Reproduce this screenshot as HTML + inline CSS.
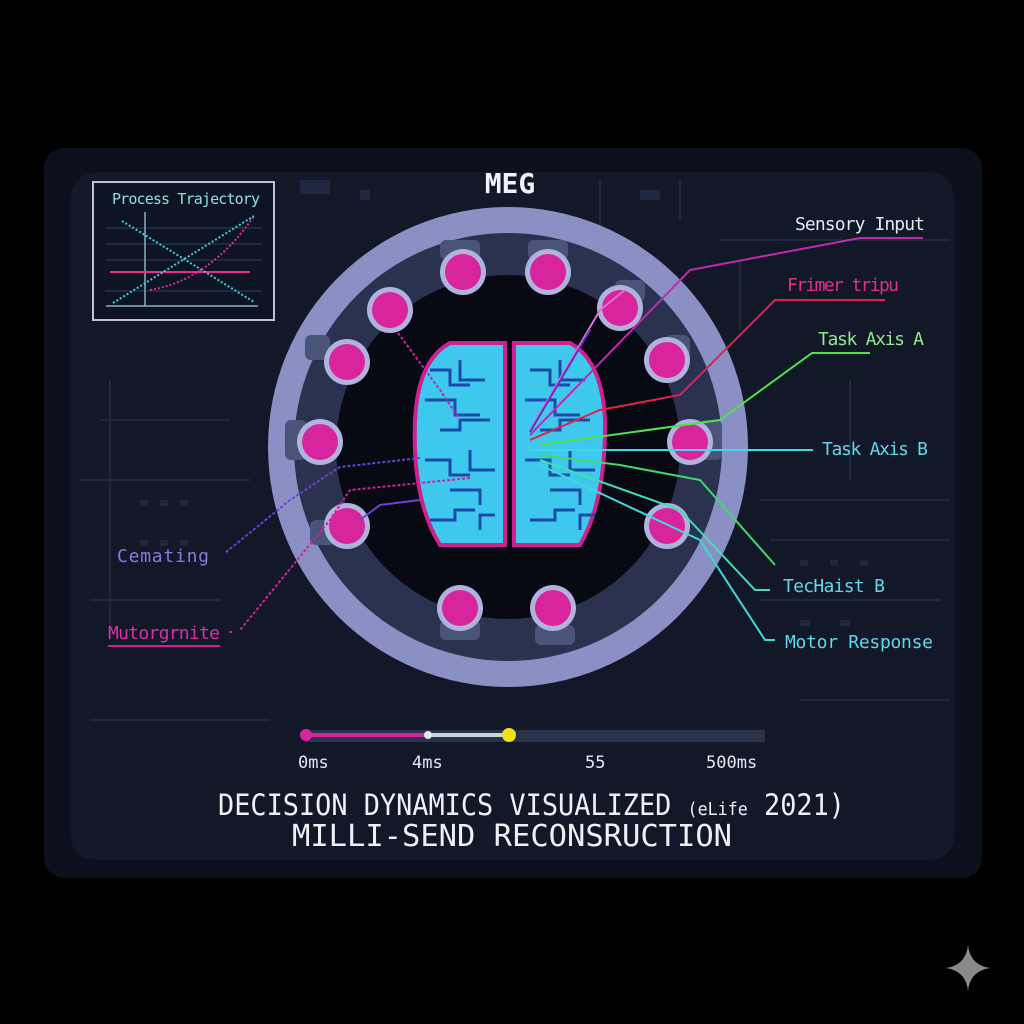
<!DOCTYPE html>
<html><head><meta charset="utf-8"><style>
html,body{margin:0;padding:0;background:#000;}
svg{display:block}
text{font-family:"DejaVu Sans Mono","Liberation Mono",monospace;}
</style></head><body>
<svg width="1024" height="1024" viewBox="0 0 1024 1024" xmlns="http://www.w3.org/2000/svg">
<rect width="1024" height="1024" fill="#000"/>
<rect x="44" y="148" width="938" height="730" rx="20" fill="#0c101c"/>
<path d="M100 172 Q70 172 70 205 L70 830 Q70 860 100 860 L925 860 Q955 860 955 830 L955 205 Q955 172 925 172 Z" fill="#121828"/>
<g stroke="#212a40" stroke-width="2" fill="none" opacity="0.9">
<path d="M80 480 H250 M90 600 H220 M110 380 V640 M760 500 H950 M770 540 H950 M760 600 H940 M800 700 H950 M90 720 H270 M600 180 V230 M680 180 V220 M720 240 H950 M740 260 V330 M100 420 H230 M850 380 V480"/>
</g>
<g fill="#1e2740">
<rect x="140" y="500" width="8" height="6"/><rect x="160" y="500" width="8" height="6"/><rect x="180" y="500" width="8" height="6"/>
<rect x="140" y="540" width="8" height="6"/><rect x="160" y="540" width="8" height="6"/><rect x="180" y="540" width="8" height="6"/>
<rect x="800" y="560" width="8" height="6"/><rect x="830" y="560" width="8" height="6"/><rect x="860" y="560" width="8" height="6"/>
<rect x="800" y="620" width="10" height="6"/><rect x="840" y="620" width="10" height="6"/><rect x="880" y="640" width="10" height="6"/>
<rect x="300" y="180" width="30" height="14"/><rect x="360" y="190" width="10" height="10"/><rect x="640" y="190" width="20" height="10"/>
</g>
<rect x="93" y="182" width="181" height="138" fill="#0e1424" stroke="#b8c4dc" stroke-width="2"/>
<text x="186" y="204" font-size="15" fill="#8fe0e6" text-anchor="middle" font-family="Liberation Sans,sans-serif" textLength="148">Process Trajectory</text>
<g stroke="#2c4258" stroke-width="1"><line x1="105" y1="228" x2="262" y2="228"/><line x1="105" y1="244" x2="262" y2="244"/><line x1="105" y1="260" x2="262" y2="260"/><line x1="105" y1="291" x2="262" y2="291"/></g>
<line x1="145" y1="212" x2="145" y2="306" stroke="#8ab0c0" stroke-width="1.5"/>
<line x1="106" y1="306" x2="258" y2="306" stroke="#8ab0c0" stroke-width="1.5"/>
<line x1="110" y1="272" x2="250" y2="272" stroke="#e0308a" stroke-width="2"/>
<line x1="122" y1="221" x2="254" y2="302" stroke="#3cd0dc" stroke-width="2" stroke-dasharray="2 2"/>
<line x1="113" y1="303" x2="254" y2="216" stroke="#3cd0dc" stroke-width="2" stroke-dasharray="2 2"/>
<path d="M150 290 Q210 280 254 216" stroke="#d03090" stroke-width="2" fill="none" stroke-dasharray="2 2"/>
<text x="510" y="193" font-size="28" font-weight="bold" fill="#f0f2f8" text-anchor="middle">MEG</text>
<circle cx="508" cy="447" r="240" fill="#8a90c4"/>
<circle cx="508" cy="447" r="214" fill="#2a3250"/>
<circle cx="508" cy="447" r="172" fill="#070a12"/>
<g fill="#4a5478">
<rect x="440" y="240" width="40" height="20" rx="6"/><rect x="528" y="240" width="40" height="20" rx="6"/>
<rect x="615" y="280" width="30" height="22" rx="6"/><rect x="665" y="335" width="25" height="25" rx="6"/>
<rect x="285" y="420" width="22" height="40" rx="6"/><rect x="700" y="420" width="22" height="40" rx="6"/>
<rect x="305" y="335" width="25" height="25" rx="6"/><rect x="310" y="520" width="25" height="25" rx="6"/>
<rect x="440" y="620" width="40" height="20" rx="6"/><rect x="535" y="625" width="40" height="20" rx="6"/>
</g>
<g fill="#b0b4dc"><circle cx="463" cy="272" r="23"/><circle cx="548" cy="272" r="23"/><circle cx="620" cy="308" r="23"/><circle cx="667" cy="360" r="23"/><circle cx="690" cy="442" r="23"/><circle cx="667" cy="526" r="23"/><circle cx="553" cy="608" r="23"/><circle cx="460" cy="608" r="23"/><circle cx="347" cy="526" r="23"/><circle cx="320" cy="442" r="23"/><circle cx="347" cy="362" r="23"/><circle cx="390" cy="310" r="23"/></g>
<g fill="#d8259e"><circle cx="463" cy="272" r="18"/><circle cx="548" cy="272" r="18"/><circle cx="620" cy="308" r="18"/><circle cx="667" cy="360" r="18"/><circle cx="690" cy="442" r="18"/><circle cx="667" cy="526" r="18"/><circle cx="553" cy="608" r="18"/><circle cx="460" cy="608" r="18"/><circle cx="347" cy="526" r="18"/><circle cx="320" cy="442" r="18"/><circle cx="347" cy="362" r="18"/><circle cx="390" cy="310" r="18"/></g>
<path d="M505 343 L450 343 Q418 360 415 420 Q412 500 440 545 L505 545 Z" fill="#3ec8ee" stroke="#d0208e" stroke-width="4"/>
<path d="M514 343 L570 343 Q602 360 605 420 Q606 500 580 545 L514 545 Z" fill="#3ec8ee" stroke="#d0208e" stroke-width="4"/>
<g stroke="#1a4aa8" stroke-width="3" fill="none">
<path d="M430 370 h20 v15 h20 M460 360 v20 h25 M425 400 h30 v15 h25 M440 430 h20 v-10 h30 M425 460 h25 v15 h20 M450 490 h30 v15 M430 520 h25 v-10 h20 M470 450 v20 h25 M480 530 v-15 h15"/>
<path d="M530 370 h20 v15 h20 M560 360 v20 h25 M525 400 h30 v15 h25 M540 430 h20 v-10 h30 M525 460 h25 v15 h20 M550 490 h30 v15 M530 520 h25 v-10 h20 M570 450 v20 h25 M580 530 v-15 h15"/>
</g>
<g fill="none" stroke-width="2">
<path d="M530 435 L690 270 L860 238 L923 238" stroke="#c02ab0"/>
<path d="M530 440 L600 410 L680 395 L775 300 L885 300" stroke="#e02050"/>
<path d="M540 445 L720 420 L812 353 L870 353" stroke="#50e050"/>
<path d="M530 450 L813 450" stroke="#40d8e8"/>
<path d="M540 455 L620 465 L700 480 L775 565" stroke="#40d870"/>
<path d="M540 460 L680 510 L755 590 L770 590" stroke="#40e0b0"/>
<path d="M540 465 L700 540 L765 640 L775 640" stroke="#40d8d8"/>
<path d="M530 430 L600 310 L625 290" stroke="#e070d0"/>
<path d="M530 432 L590 330" stroke="#6030c0"/>
<path d="M420 458 L340 467 L290 500 L225 553" stroke="#6a40d8" stroke-dasharray="3 2"/>
<path d="M470 478 L350 490 L330 520 L240 630 M232 632 h-5" stroke="#d020a0" stroke-dasharray="3 2"/>
<path d="M398 333 L440 390 L460 420" stroke="#d020a0" stroke-dasharray="3 2"/>
<path d="M420 500 L380 505 L360 520" stroke="#7040d0"/>
</g>
<line x1="108" y1="646" x2="220" y2="646" stroke="#d020a0" stroke-width="2"/>
<g font-family="Liberation Sans,sans-serif" font-size="18">
<text x="795" y="230" fill="#e6e8f2" textLength="130">Sensory Input</text>
<text x="787" y="291" fill="#e0308c" textLength="112">Frimer tripu</text>
<text x="818" y="345" fill="#90e890" textLength="106">Task Axis A</text>
<text x="822" y="455" fill="#60d8e8" textLength="106">Task Axis B</text>
<text x="783" y="592" fill="#60d8e8" textLength="102">TecHaist B</text>
<text x="785" y="648" fill="#60d8e8" textLength="148">Motor Response</text>
<text x="117" y="562" fill="#8a78e0" textLength="92">Cemating</text>
<text x="108" y="639" fill="#d830a8" textLength="112">Mutorgrnite</text>
</g>
<rect x="305" y="730" width="460" height="12" fill="#2a3448"/>
<line x1="306" y1="735" x2="427" y2="735" stroke="#d8259e" stroke-width="4"/>
<line x1="427" y1="735" x2="508" y2="735" stroke="#c8d4e0" stroke-width="4"/>
<circle cx="306" cy="735" r="6" fill="#d8259e"/><circle cx="428" cy="735" r="4" fill="#e0e8f0"/><circle cx="509" cy="735" r="7" fill="#f0e020"/>
<g font-size="17" fill="#e6e8f2">
<text x="298" y="768">0ms</text><text x="412" y="768">4ms</text><text x="585" y="768">55</text><text x="706" y="768">500ms</text>
</g>
<text x="218" y="815" font-size="29" fill="#eef0f6" textLength="627" lengthAdjust="spacingAndGlyphs">DECISION DYNAMICS VISUALIZED <tspan font-size="18">(eLife</tspan> 2021)</text>
<text x="292" y="846" font-size="30" fill="#eef0f6" textLength="440" lengthAdjust="spacingAndGlyphs">MILLI-SEND RECONSRUCTION</text>
<path d="M968 945 Q970 965 990 968 Q970 971 968 991 Q966 971 946 968 Q966 965 968 945 Z" fill="#8a8a8a"/>
</svg>
</body></html>
